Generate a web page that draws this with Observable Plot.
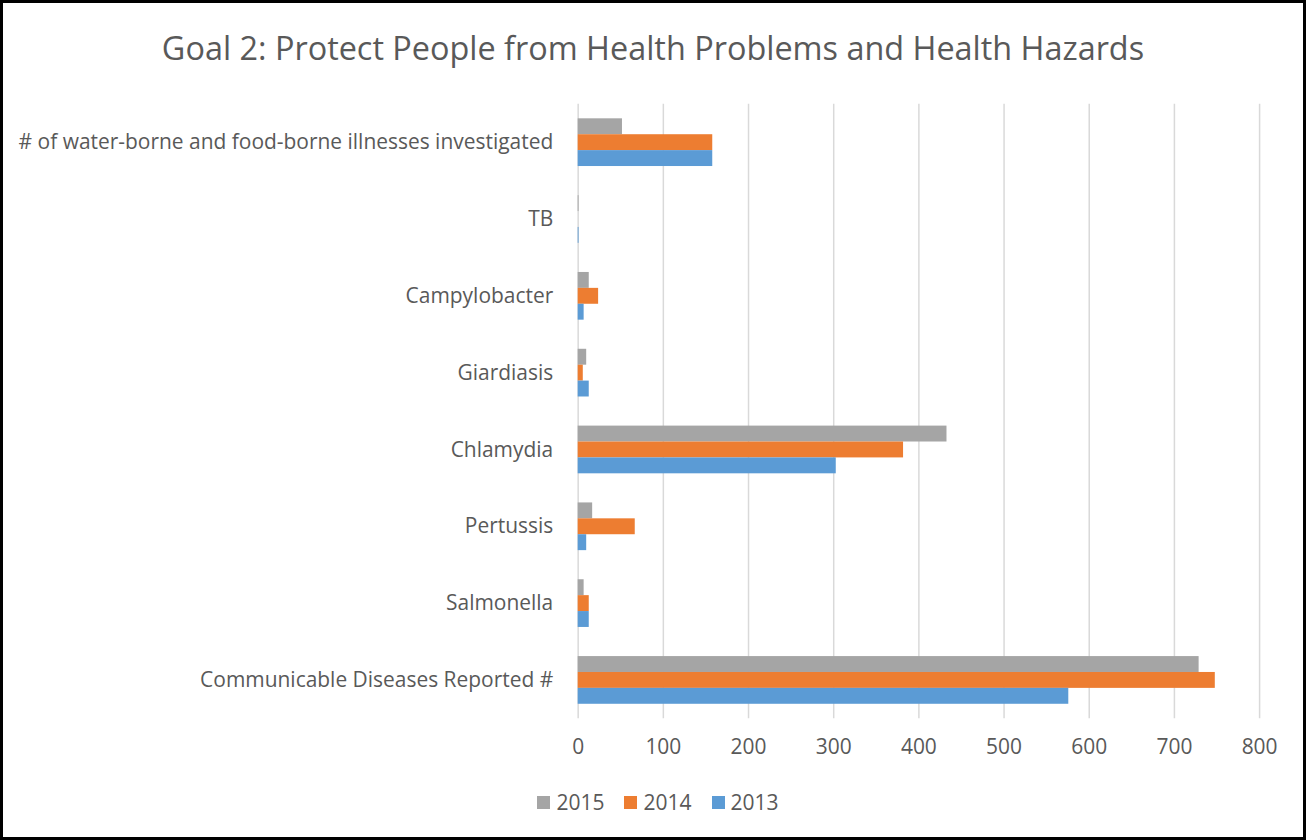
<!DOCTYPE html>
<html>
<head>
<meta charset="utf-8">
<script src="https://cdn.jsdelivr.net/npm/d3@7"></script>
<script src="https://cdn.jsdelivr.net/npm/@observablehq/plot@0.6"></script>
<style>
  html, body { margin: 0; padding: 0; background: #fff; }
  #frame { position: relative; width: 1306px; height: 840px; box-sizing: border-box; border: 3px solid #000; overflow: hidden; background: #fff; }
  #title { position: absolute; left: 0; right: 0; top: 22px; text-align: center; font-family: "Open Sans", sans-serif; font-size: 32.4px; color: #595959; white-space: nowrap; }
  #chart { position: absolute; left: -3px; top: -3px; }
  #legend { position: absolute; left: 10px; right: 0; top: 785px; display: flex; justify-content: center; gap: 20px; font-family: "Open Sans", sans-serif; font-size: 21px; color: #595959; }
  .item { display: flex; align-items: center; gap: 6px; }
  .sw { width: 13px; height: 13px; display: inline-block; }
</style>
</head>
<body>
<div id="frame">
  <div id="title">Goal 2: Protect People from Health Problems and Health Hazards</div>
  <div id="chart"></div>
  <div id="legend"></div>
</div>
<script>
const categories = [
  "# of water-borne and food-borne illnesses investigated",
  "TB",
  "Campylobacter",
  "Giardiasis",
  "Chlamydia",
  "Pertussis",
  "Salmonella",
  "Communicable Diseases Reported #"
];
const years = ["2015", "2014", "2013"];
const values2015 = [52, 1, 13, 10, 433, 17, 7, 729];
const values2014 = [158, 0, 24, 6, 382, 67, 13, 748];
const values2013 = [158, 1, 7, 13, 303, 10, 13, 576];
const xTicks = [0, 100, 200, 300, 400, 500, 600, 700, 800];
const colors = ["#A5A5A5", "#ED7D31", "#5B9BD5"];

const series = [values2015, values2014, values2013];
const rows = [];
years.forEach((yr, i) => categories.forEach((c, j) => rows.push({category: c, year: yr, value: series[i][j]})));

const W = 1306, H = 783, mt = 104, mb = H - 720, ml = 579, mr = W - 1262;
const pInner = 0.379;
const step = (H - mt - mb) / categories.length;
const sub = step * (1 - pInner) / 3;

const barMarks = years.map((yr, i) => Plot.barX(rows.filter(d => d.year === yr), {
  x: "value", y: "category", fill: colors[i],
  insetTop: sub * i, insetBottom: sub * (2 - i)
}));

const chart = Plot.plot({
  width: W, height: H,
  marginTop: mt, marginBottom: mb, marginLeft: ml, marginRight: mr,
  style: {fontFamily: "Open Sans, sans-serif", fontSize: "21px", color: "#595959", background: "transparent"},
  x: {domain: [0, 800], ticks: xTicks, tickSize: 0, tickPadding: 20, label: null},
  y: {domain: categories, paddingInner: pInner, paddingOuter: pInner / 2, round: false, tickSize: 0, tickPadding: 25, label: null},
  marks: [
    Plot.ruleX(xTicks, {stroke: "#D9D9D9", strokeWidth: 1.5}),
    ...barMarks
  ]
});
document.getElementById("chart").appendChild(chart);

const legend = document.getElementById("legend");
years.forEach((yr, i) => {
  const it = document.createElement("div");
  it.className = "item";
  const sw = document.createElement("span");
  sw.className = "sw";
  sw.style.background = colors[i];
  const t = document.createElement("span");
  t.textContent = yr;
  it.appendChild(sw); it.appendChild(t);
  legend.appendChild(it);
});
</script>
</body>
</html>
